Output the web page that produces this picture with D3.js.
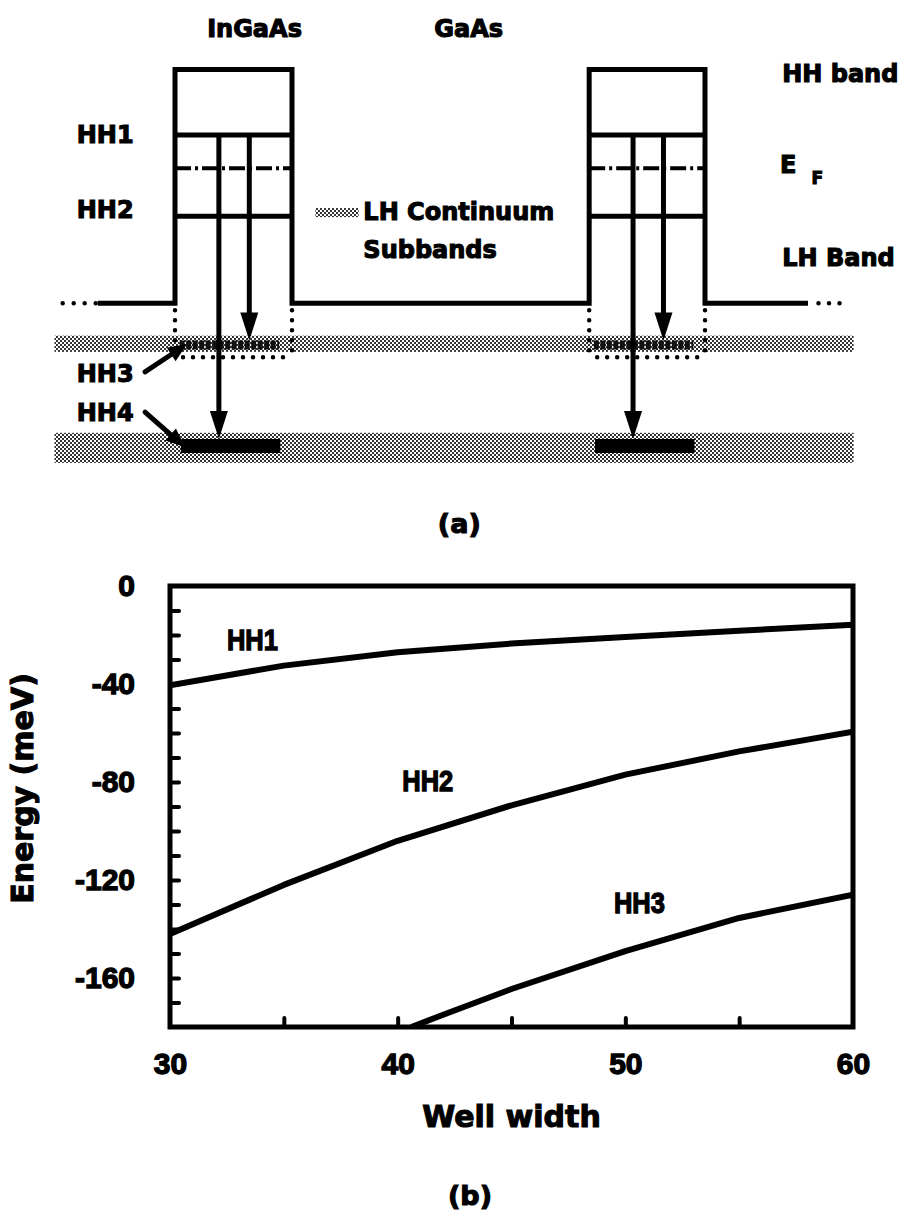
<!DOCTYPE html>
<html><head><meta charset="utf-8">
<script src="https://cdn.jsdelivr.net/npm/d3@7"></script>
<style>
html,body{margin:0;padding:0;background:#fff;}
svg{display:block;background:#fff;}
.lbl{font-family:"DejaVu Sans",sans-serif;font-weight:bold;fill:#000;stroke:#000;stroke-width:1.1px;}
.num{font-family:"Liberation Sans",Arial,sans-serif;font-weight:bold;fill:#000;stroke:#000;stroke-width:1.3px;}
</style></head><body>
<svg id="fig" width="905" height="1214"></svg>
<script>
// ---- (b) subband energies versus well width ----
const wellWidth = [30, 35, 40, 45, 50, 55, 60];
const hh1Energy = [-40.5, -32.5, -27, -23.5, -20.8, -18.3, -15.8];
const hh2Energy = [-142, -122, -104, -89.5, -77, -67.5, -59.5];
const hh3Width  = [40.6, 42, 45, 50, 55, 60];
const hh3Energy = [-180, -175, -164.5, -149, -135.5, -126];
const curveNames = ["HH1", "HH2", "HH3"];
const curveLabelWidth  = [32.5, 40.2, 49.5];
const curveLabelEnergy = [-26, -83.7, -133.5];
const xTickLabels = [30, 40, 50, 60];
const xMinorTicks = [35, 40, 45, 50, 55];
const yTickLabels = [0, -40, -80, -120, -160];
const yMinorTicks = d3.range(-10, -171, -10);

// ---- (a) schematic valence-band levels (arbitrary energy units) ----
const levelNames  = ["HH band edge", "HH1", "EF", "HH2", "LH band edge", "HH3", "HH4", "HH3 bound"];
const levelEnergy = [0, -17.4, -26.2, -39, -62.1, -73.2, -100, -76.4];
const wellLeft  = [0, 3.54];
const wellRight = [1, 4.53];
const continuumTop    = [-70.7, -96.5];
const continuumBottom = [-75, -104.5];

const svg = d3.select("#fig");
const z = d3.scaleLinear().domain([0, 1]).range([175, 292]);
const e = d3.scaleLinear().domain([0, -100]).range([69.5, 446]);
const lev = n => e(levelEnergy[levelNames.indexOf(n)]);

// dithered grey fill for the continuum bands
const defs = svg.append("defs");
const pat = defs.append("pattern").attr("id", "dither").attr("patternUnits", "userSpaceOnUse")
  .attr("width", 4).attr("height", 4);
pat.append("rect").attr("width", 4).attr("height", 4).attr("fill", "#fff");
pat.append("rect").attr("width", 2).attr("height", 2).attr("fill", "#333");
pat.append("rect").attr("x", 2).attr("y", 2).attr("width", 2).attr("height", 2).attr("fill", "#333");

const a = svg.append("g");

// continuum bands
a.selectAll("rect.band").data(continuumTop).join("rect").attr("class", "band")
  .attr("x", z(-1.03)).attr("width", z(5.8) - z(-1.03))
  .attr("y", d => e(d)).attr("height", (d, i) => e(continuumBottom[i]) - e(d))
  .attr("fill", "url(#dither)");
// legend swatch
a.append("rect").attr("x", z(1.2)).attr("width", z(1.57) - z(1.2))
  .attr("y", e(-36.8)).attr("height", e(-39.2) - e(-36.8)).attr("fill", "url(#dither)");

// dotted boxes below each well (HH3 bound region)
const dotted = (x1, y1, x2, y2) => a.append("line")
  .attr("x1", x1).attr("y1", y1).attr("x2", x2).attr("y2", y2)
  .attr("stroke", "#000").attr("stroke-width", 4.5).attr("stroke-linecap", "round")
  .attr("stroke-dasharray", "0,10");
wellLeft.forEach((wl, i) => {
  const wr = wellRight[i];
  dotted(z(wl), lev("LH band edge") + 7, z(wl), lev("HH3 bound"));
  dotted(z(wr), lev("LH band edge") + 7, z(wr), lev("HH3 bound"));
  dotted(z(wl) + 8, lev("HH3 bound"), z(wr) - 4, lev("HH3 bound"));
});
// dots continuing the barrier outward
dotted(z(-0.96), lev("LH band edge"), z(-0.66), lev("LH band edge")).attr("stroke-dasharray", "0,11");
dotted(z(5.5), lev("LH band edge"), z(5.68), lev("LH band edge")).attr("stroke-dasharray", "0,10.5");

// band profile: barriers and wells
const prof = d3.path();
prof.moveTo(z(-0.66), lev("LH band edge"));
wellLeft.forEach((wl, i) => {
  prof.lineTo(z(wl), lev("LH band edge"));
  prof.lineTo(z(wl), lev("HH band edge"));
  prof.lineTo(z(wellRight[i]), lev("HH band edge"));
  prof.lineTo(z(wellRight[i]), lev("LH band edge"));
});
prof.lineTo(z(5.41), lev("LH band edge"));
a.append("path").attr("d", prof.toString()).attr("fill", "none")
  .attr("stroke", "#000").attr("stroke-width", 5).attr("stroke-linejoin", "miter");

// confined levels inside the wells
wellLeft.forEach((wl, i) => {
  const wr = wellRight[i];
  ["HH1", "HH2"].forEach(n => a.append("line")
    .attr("x1", z(wl)).attr("x2", z(wr)).attr("y1", lev(n)).attr("y2", lev(n))
    .attr("stroke", "#000").attr("stroke-width", 5));
  a.append("line").attr("x1", z(wl)).attr("x2", z(wr)).attr("y1", lev("EF")).attr("y2", lev("EF"))
    .attr("stroke", "#000").attr("stroke-width", 4).attr("stroke-dasharray", "16,4,3,4");
  // HH3 and HH4 states
  a.append("line").attr("x1", z(wl + 0.04)).attr("x2", z(wl + 0.89))
    .attr("y1", lev("HH3")).attr("y2", lev("HH3"))
    .attr("stroke", "#111").attr("stroke-width", 9).attr("stroke-dasharray", "5,1.5");
  a.append("line").attr("x1", z(wl + 0.05)).attr("x2", z(wl + 0.9))
    .attr("y1", lev("HH4")).attr("y2", lev("HH4"))
    .attr("stroke", "#000").attr("stroke-width", 14);
  // intersubband transitions
  [["HH4", 0.375, 7], ["HH3", 0.635, 4.5]].forEach(([to, f, half]) => {
    const xa = z(wl + f), y0 = lev("HH1"), y1 = lev(to) - half;
    a.append("line").attr("x1", xa).attr("x2", xa).attr("y1", y0).attr("y2", y1 - 20)
      .attr("stroke", "#000").attr("stroke-width", 5);
    a.append("path").attr("d", `M${xa - 9},${y1 - 28}L${xa + 9},${y1 - 28}L${xa},${y1}Z`).attr("fill", "#000");
  });
});

// pointer arrows for HH3 / HH4
function pointer(zs, es, zt, et) {
  const x0 = z(zs), y0 = e(es), x1 = z(zt), y1 = e(et);
  const ang = Math.atan2(y1 - y0, x1 - x0), L = 19, W = 8;
  const bx = x1 - L * Math.cos(ang), by = y1 - L * Math.sin(ang);
  a.append("line").attr("x1", x0).attr("y1", y0).attr("x2", bx).attr("y2", by)
    .attr("stroke", "#000").attr("stroke-width", 5).attr("stroke-linecap", "round");
  const px = -Math.sin(ang) * W, py = Math.cos(ang) * W;
  a.append("path").attr("d", `M${bx + px},${by + py}L${bx - px},${by - py}L${x1},${y1}Z`).attr("fill", "#000");
}
pointer(-0.256, -80.3, 0.103, -72.9);
pointer(-0.256, -91, 0.085, -100.3);

// schematic text
const atxt = (t, zx, y, size, anchor) => a.append("text").attr("class", "lbl")
  .attr("x", z(zx)).attr("y", y).attr("font-size", size).attr("text-anchor", anchor || "start").text(t);
atxt("InGaAs", 0.68, 37, 24, "middle");
atxt("GaAs", 2.51, 37, 24, "middle");
atxt("HH1", -0.84, 143, 24);
atxt("HH2", -0.84, 218, 24);
atxt("HH3", -0.84, 382, 24);
atxt("HH4", -0.84, 421, 24);
atxt("LH Continuum", 1.61, 220, 24);
atxt("Subbands", 1.61, 258, 24);
atxt("HH band", 5.19, 82, 24);
atxt("LH Band", 5.19, 266, 24);
atxt("E", 5.17, 173, 24);
atxt("F", 5.44, 184, 17);
atxt("(a)", 2.43, 533, 27, "middle");

// ---- panel (b) ----
const x = d3.scaleLinear().domain([30, 60]).range([170, 853]);
const y = d3.scaleLinear().domain([0, -180]).range([586, 1027]);
const b = svg.append("g");

b.append("clipPath").attr("id", "plotclip").append("rect")
  .attr("x", x(30)).attr("y", y(0)).attr("width", x(60) - x(30)).attr("height", y(-180) - y(0));

const line = d3.line().x(d => x(d[0])).y(d => y(d[1]));
const series = [
  d3.zip(wellWidth, hh1Energy),
  d3.zip(wellWidth, hh2Energy),
  d3.zip(hh3Width, hh3Energy)
];
b.append("g").attr("clip-path", "url(#plotclip)").selectAll("path").data(series).join("path")
  .attr("d", line).attr("fill", "none").attr("stroke", "#000").attr("stroke-width", 6)
  .attr("stroke-linejoin", "round");

// inward minor ticks
const lt = b.append("g").attr("transform", `translate(${x(30)},0)`)
  .call(d3.axisLeft(y).tickValues(yMinorTicks).tickSize(-9).tickFormat(""));
const bt = b.append("g").attr("transform", `translate(0,${y(-180)})`)
  .call(d3.axisBottom(x).tickValues(xMinorTicks).tickSize(-9).tickFormat(""));
[lt, bt].forEach(g => {
  g.select(".domain").remove();
  g.selectAll(".tick line").attr("stroke", "#000").attr("stroke-width", 4).attr("stroke-linecap", "round");
});

// tick labels
const yl = b.append("g").attr("transform", `translate(${x(30)},0)`)
  .call(d3.axisLeft(y).tickValues(yTickLabels).tickSize(0).tickPadding(35).tickFormat(d3.format("d")));
const xl = b.append("g").attr("transform", `translate(0,${y(-180)})`)
  .call(d3.axisBottom(x).tickValues(xTickLabels).tickSize(0).tickPadding(26).tickFormat(d3.format("d")));
[yl, xl].forEach(g => {
  g.select(".domain").remove();
  g.attr("font-family", null).attr("font-size", null);
  g.selectAll("text").attr("class", "num").attr("font-size", 30).attr("fill", "#000");
});
yl.selectAll("text").text(d => d === 0 ? "0" : "-" + Math.abs(d));

// frame
b.append("rect").attr("x", x(30)).attr("y", y(0))
  .attr("width", x(60) - x(30)).attr("height", y(-180) - y(0))
  .attr("fill", "none").attr("stroke", "#000").attr("stroke-width", 5);

// curve labels (condensed bold)
b.selectAll("text.cl").data(curveNames).join("text").attr("class", "num")
  .attr("transform", (d, i) => `translate(${x(curveLabelWidth[i])},${y(curveLabelEnergy[i])}) scale(0.85,1)`)
  .attr("font-size", 30).attr("stroke-width", 1).text(d => d);

// axis titles and caption
b.append("text").attr("class", "lbl").attr("font-size", 30).attr("text-anchor", "middle")
  .attr("transform", `translate(33,${(y(0) + y(-180)) / 2 - 18}) rotate(-90)`).text("Energy (meV)");
b.append("text").attr("class", "lbl").attr("font-size", 30).attr("text-anchor", "middle")
  .attr("x", (x(30) + x(60)) / 2).attr("y", 1127).text("Well width");
b.append("text").attr("class", "lbl").attr("font-size", 27).attr("text-anchor", "middle")
  .attr("x", 470).attr("y", 1205).text("(b)");
</script>
</body></html>
